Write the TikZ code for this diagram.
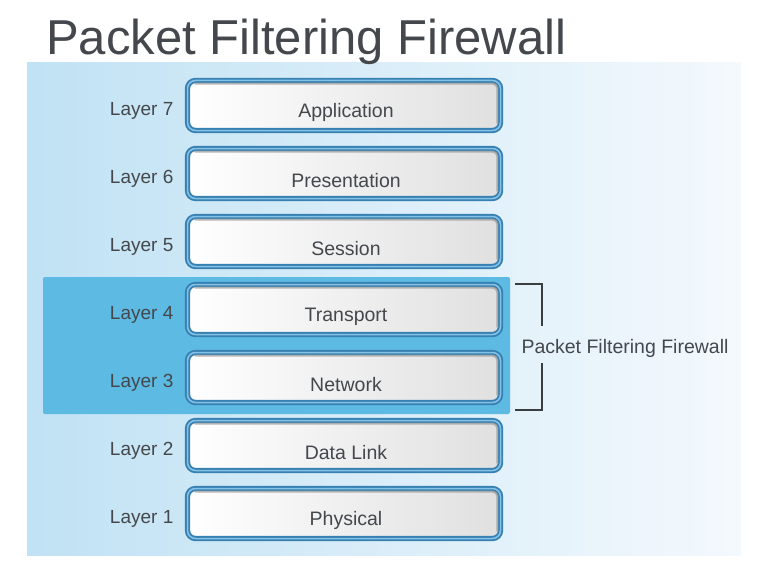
\documentclass[tikz,border=0pt]{standalone}
\usepackage{fontspec}
\setmainfont{Liberation Sans}
\definecolor{panelL}{HTML}{C0E2F4}
\definecolor{panelM}{HTML}{DAEEF9}
\definecolor{panelR}{HTML}{F4F9FD}
\definecolor{bandblue}{HTML}{5DBAE2}
\definecolor{boxdark}{HTML}{3780B2}
\definecolor{boxlight}{HTML}{84C3E6}
\definecolor{boxgray}{HTML}{E0E0E0}
\definecolor{shadowgray}{HTML}{9A9A9A}
\definecolor{txt}{HTML}{44484D}
\definecolor{brk}{HTML}{3A3D40}
\begin{document}
\begin{tikzpicture}[x=1pt,y=-1pt,
  boxstyle/.style={draw=boxdark, line width=1.9pt, double=boxlight, double distance=1.5pt,
    rounded corners=8pt, left color=white, right color=boxgray,
    minimum width=313pt, minimum height=50pt, inner sep=0pt},
  shadowline/.style={draw=shadowgray, line width=2pt, rounded corners=5pt, opacity=0.7},
  boxtext/.style={text=txt, font=\fontsize{19.5}{22}\selectfont, inner sep=0pt},
  layertext/.style={text=txt, font=\fontsize{19}{22}\selectfont, inner sep=0pt},
  bracketline/.style={draw=brk, line width=1.4pt}]
\useasboundingbox (0,0) rectangle (773,575);
\fill[white] (0,0) rectangle (773,575);
% panel
\shade[left color=panelL, middle color=panelM, right color=panelR] (27,63) rectangle (741,555);
% title
\node[anchor=base west, text=txt, inner sep=0pt, font=\fontsize{49}{56}\selectfont] (title) at (46,55) {Packet Filtering Firewall};
% highlight band
\fill[bandblue, rounded corners=2pt] (43,277) rectangle (510,414);
% boxes
\foreach \n/\t [count=\i from 0] in {7/Application,6/Presentation,5/Session,4/Transport,3/Network,2/Data Link,1/Physical} {
  \pgfmathsetmacro\cy{105.5+68*\i}
  \node[boxstyle] (b\n) at (344,\cy) {};
  \draw[shadowline] ([xshift=8pt,yshift=-4pt]b\n.north west) -- ([xshift=-4pt,yshift=-4pt]b\n.north east) -- ([xshift=-4pt,yshift=8pt]b\n.south east);
  \node[boxtext] (t\n) at ([xshift=2pt,yshift=-7pt]b\n.center) {\t};
  \node[layertext, anchor=east] (l\n) at ([xshift=-13pt,yshift=-5pt]b\n.west) {Layer \n};
}
% bracket
\coordinate (bt1) at (515,284);
\coordinate (bt2) at (542,326);
\coordinate (bb1) at (515,410);
\coordinate (bb2) at (542,363);
\draw[bracketline] (bt1) -| (bt2);
\draw[bracketline] (bb1) -| (bb2);
\node[text=txt, inner sep=0pt, font=\fontsize{19.5}{22}\selectfont] (fw) at (625,348) {Packet Filtering Firewall};
\end{tikzpicture}
\end{document}
